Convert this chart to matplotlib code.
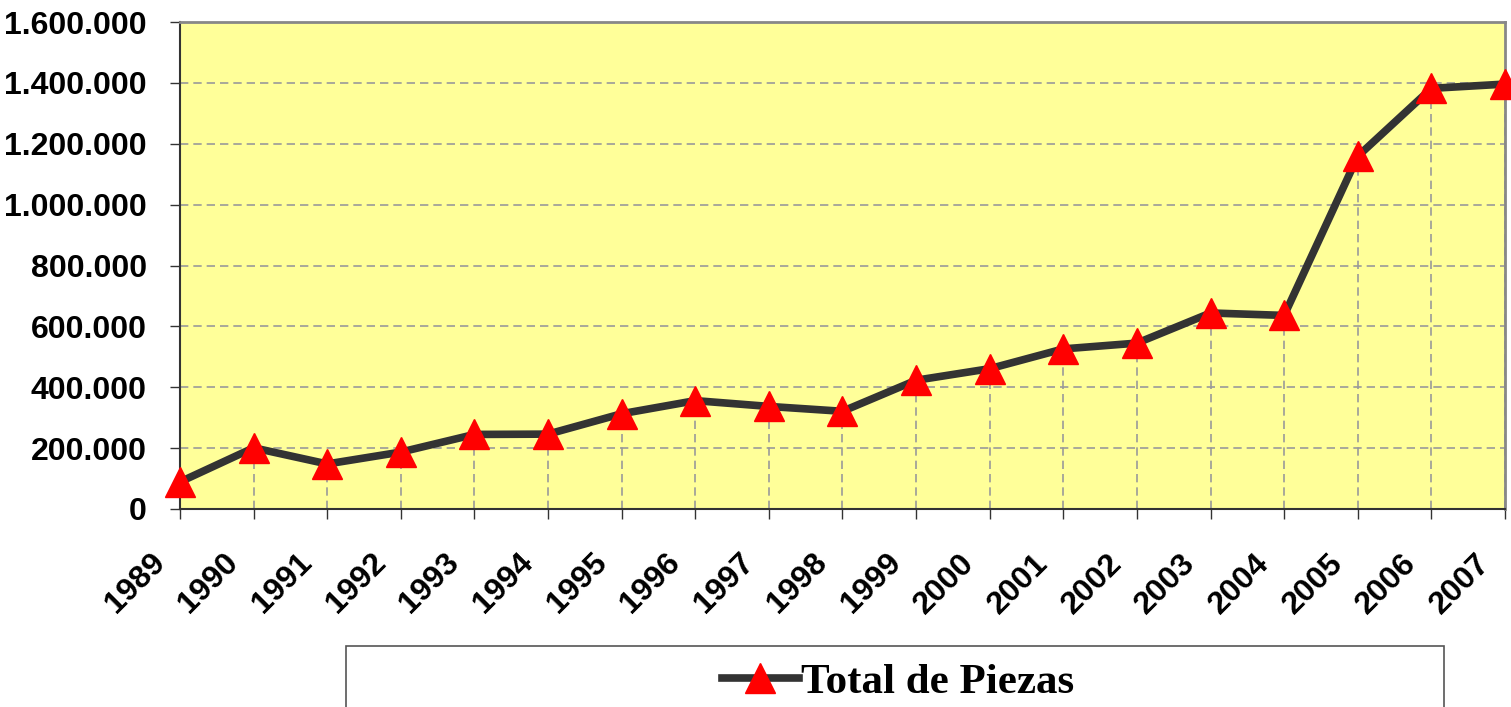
import matplotlib.pyplot as plt
import matplotlib.transforms as mtransforms
from matplotlib.patches import Rectangle
from matplotlib.lines import Line2D

anios = list(range(1989, 2008))
piezas = [89000, 201000, 148000, 187000, 245000, 246000, 313000, 356000,
          337000, 321000, 423000, 461000, 526000, 545000, 644000, 636000,
          1159000, 1382000, 1396000]
yticks = [0, 200000, 400000, 600000, 800000, 1000000, 1200000, 1400000, 1600000]
ytick_labels = ["0", "200.000", "400.000", "600.000", "800.000",
                "1.000.000", "1.200.000", "1.400.000", "1.600.000"]

fig = plt.figure(figsize=(15.11, 7.07), dpi=100)
ax = fig.add_axes([180 / 1511, 1 - 509 / 707, 1325 / 1511, 487 / 707])
ax.set_facecolor("#FFFF99")

# rejilla horizontal
for v in yticks[1:-1]:
    ax.axhline(v, color="#999999", linestyle=(0, (5, 3)), linewidth=1.2, zorder=1)
# lineas de caida
ax.vlines(anios, 0, piezas, color="#999999", linestyle=(0, (5, 3)), linewidth=1.2, zorder=1)

ax.plot(anios, piezas, color="#333333", linewidth=5.5, zorder=3, clip_on=False)
ax.plot(anios, piezas, linestyle="none", marker="^", markersize=21,
        color="red", zorder=4, clip_on=False)

ax.set_xlim(anios[0], anios[-1])
ax.set_ylim(0, 1600000)
ax.set_yticks(yticks)
ax.set_yticklabels(ytick_labels)
ax.set_xticks(anios)
ax.set_xticklabels([str(a) for a in anios], rotation=45, ha="right", va="top")

ax.tick_params(axis="y", direction="out", length=7, width=1, pad=17,
               labelsize=23, color="#333333")
ax.tick_params(axis="x", direction="out", length=7, width=1, pad=21,
               labelsize=23, color="#333333")
for lbl in ax.get_yticklabels() + ax.get_xticklabels():
    lbl.set_fontweight("bold")
    lbl.set_family("Liberation Sans")
desplaza = mtransforms.ScaledTranslation(-9 / 100, 0, fig.dpi_scale_trans)
for lbl in ax.get_xticklabels():
    lbl.set_transform(lbl.get_transform() + desplaza)

ax.spines["top"].set_color("#888888")
ax.spines["right"].set_color("#888888")
ax.spines["top"].set_linewidth(2)
ax.spines["right"].set_linewidth(2)
ax.spines["left"].set_color("#333333")
ax.spines["bottom"].set_color("#333333")
ax.spines["left"].set_linewidth(1.5)
ax.spines["bottom"].set_linewidth(1.5)

# caja de leyenda
fig.patches.append(Rectangle((346 / 1511, -0.05), 1098 / 1511, 0.05 + (707 - 646) / 707,
                             transform=fig.transFigure, facecolor="white",
                             edgecolor="#555555", linewidth=1.2))
handle = Line2D([], [], color="#333333", linewidth=5.5, marker="^",
                markersize=21, markerfacecolor="red", markeredgecolor="red")
fig.legend([handle], ["Total de Piezas"], loc="center",
           bbox_to_anchor=(898 / 1511, 1 - 682 / 707), frameon=False,
           handlelength=1.8, handletextpad=0.05,
           prop={"family": "Liberation Serif", "weight": "bold", "size": 31})

fig.savefig("out.png", dpi=100)
